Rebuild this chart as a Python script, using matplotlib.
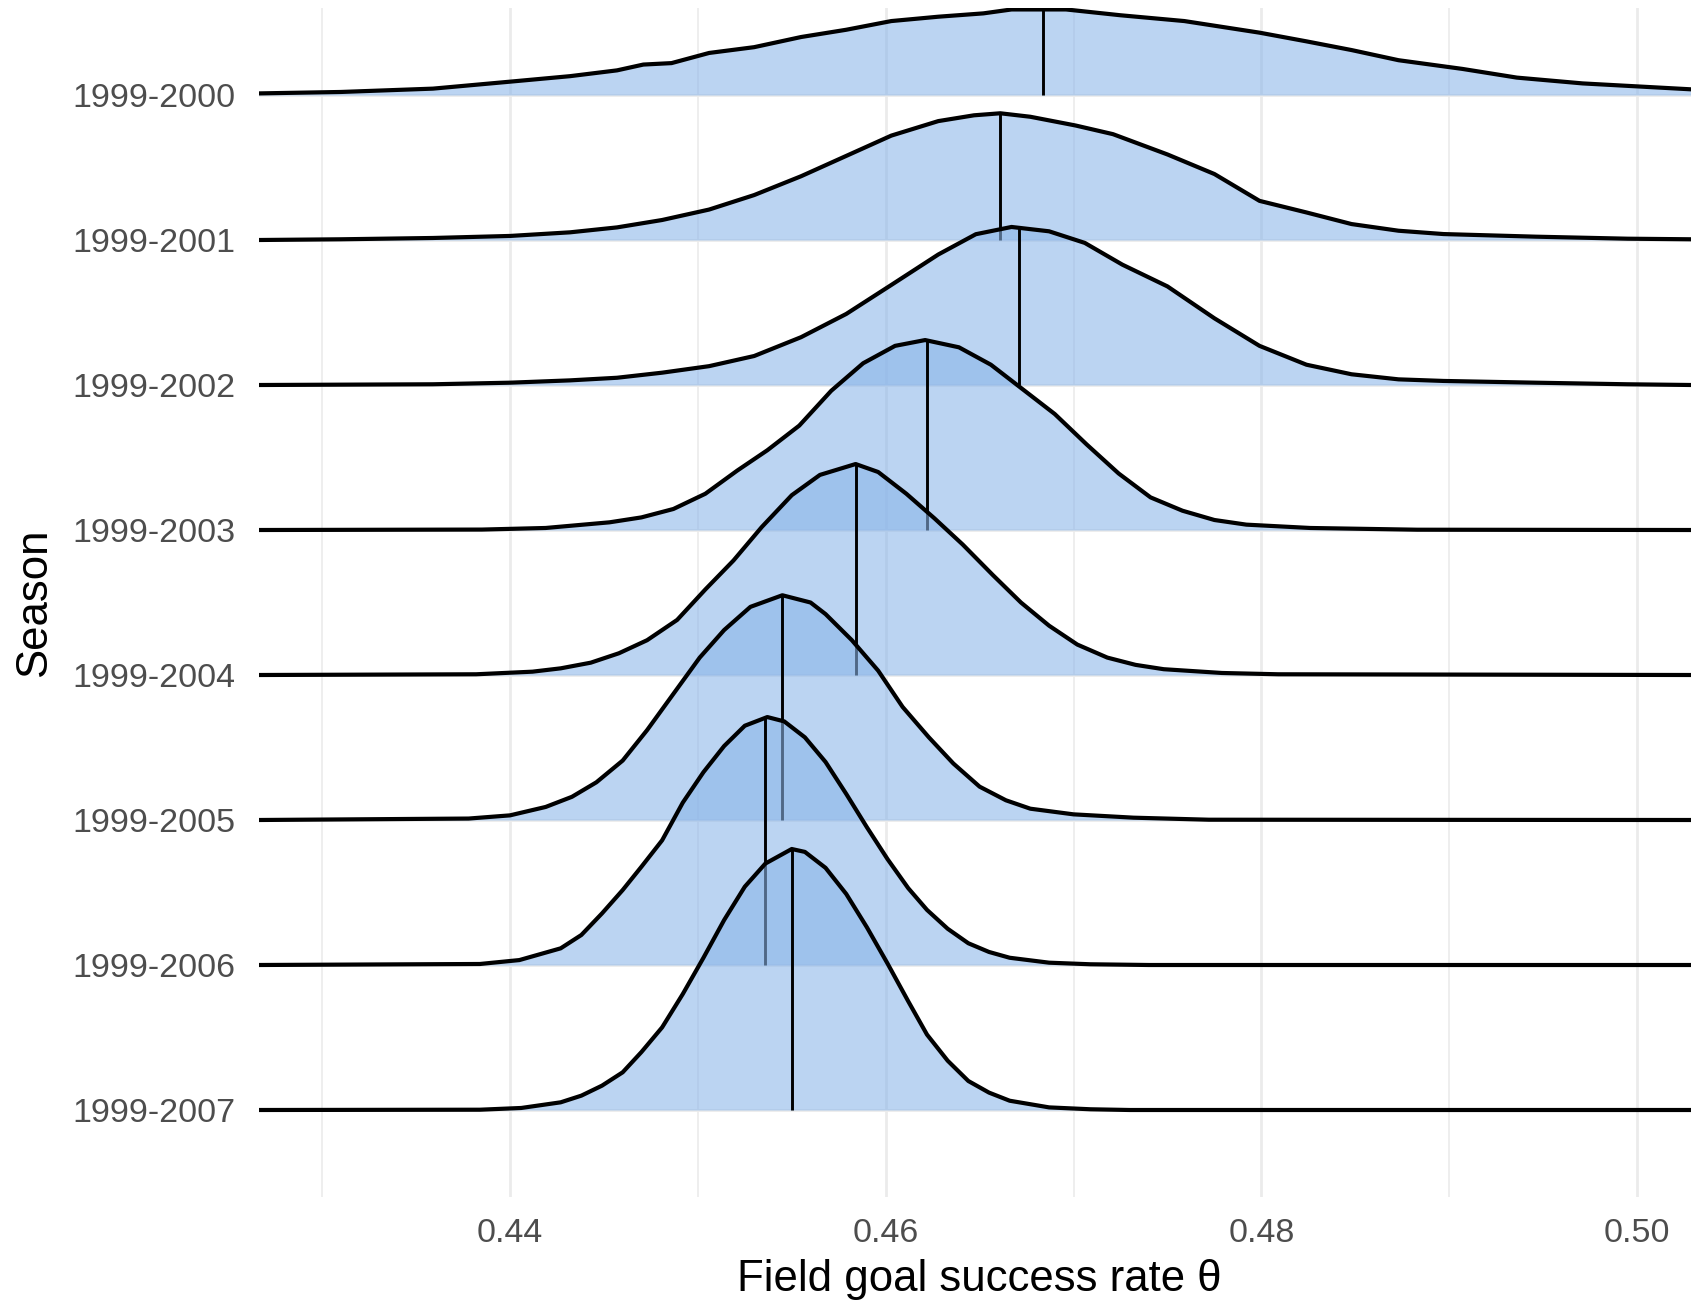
import numpy as np
import matplotlib.pyplot as plt

plt.rcParams['font.family'] = ['Liberation Sans', 'DejaVu Sans']

# seasons from top to bottom, posterior means (vertical lines)
seasons = ["1999-2000", "1999-2001", "1999-2002", "1999-2003",
           "1999-2004", "1999-2005", "1999-2006", "1999-2007"]
means = [0.4684, 0.4661, 0.4671, 0.4622, 0.4584, 0.4545, 0.4536, 0.4550]

# ridge heights (in units of row spacing)
x_2000 = [0.4266, 0.4310, 0.4359, 0.4400, 0.4432, 0.4457, 0.4471, 0.4486, 0.4506,
          0.4530, 0.4555, 0.4579, 0.4603, 0.4628, 0.4652, 0.4667, 0.4696, 0.4725,
          0.4759, 0.4799, 0.4824, 0.4848, 0.4873, 0.4907, 0.4936, 0.4971, 0.5029]
h_2000 = [0.011, 0.021, 0.044, 0.092, 0.13, 0.17, 0.21, 0.22, 0.29,
          0.33, 0.40, 0.45, 0.51, 0.54, 0.563, 0.59, 0.59, 0.55,
          0.51, 0.43, 0.37, 0.31, 0.24, 0.18, 0.12, 0.08, 0.039]

x_2001 = [0.4266, 0.4310, 0.4359, 0.4400, 0.4432, 0.4457, 0.4481, 0.4506, 0.4530,
          0.4555, 0.4579, 0.4603, 0.4628, 0.4647, 0.4661, 0.4677, 0.4701, 0.4721,
          0.4750, 0.4775, 0.4799, 0.4824, 0.4848, 0.4873, 0.4897, 0.4946, 0.4995, 0.5029]
h_2001 = [0.0, 0.005, 0.014, 0.028, 0.053, 0.087, 0.138, 0.21, 0.31,
          0.44, 0.58, 0.72, 0.82, 0.86, 0.874, 0.85, 0.79, 0.73,
          0.59, 0.455, 0.27, 0.19, 0.11, 0.064, 0.041, 0.023, 0.009, 0.005]

x_2002 = [0.4266, 0.4359, 0.4400, 0.4432, 0.4457, 0.4481, 0.4506, 0.4530, 0.4555,
          0.4579, 0.4603, 0.4628, 0.4648, 0.4667, 0.4687, 0.4706, 0.4726, 0.4750,
          0.4775, 0.4799, 0.4824, 0.4848, 0.4873, 0.4897, 0.4946, 0.4995, 0.5029]
h_2002 = [0.0, 0.005, 0.016, 0.032, 0.05, 0.085, 0.13, 0.20, 0.33,
          0.49, 0.69, 0.90, 1.04, 1.09, 1.06, 0.98, 0.83, 0.68,
          0.46, 0.27, 0.14, 0.074, 0.039, 0.028, 0.016, 0.005, 0.0]

x_2003 = [0.4266, 0.4385, 0.4419, 0.4453, 0.4470, 0.4487, 0.4504, 0.4521, 0.4537,
          0.4554, 0.4571, 0.4588, 0.4605, 0.4621, 0.4639, 0.4656, 0.4673, 0.4690,
          0.4707, 0.4724, 0.4741, 0.4758, 0.4775, 0.4792, 0.4826, 0.4883, 0.5029]
h_2003 = [0.0, 0.003, 0.014, 0.053, 0.087, 0.145, 0.25, 0.41, 0.55,
          0.72, 0.96, 1.15, 1.27, 1.31, 1.26, 1.14, 0.97, 0.80,
          0.59, 0.39, 0.225, 0.133, 0.069, 0.037, 0.014, 0.002, 0.0]

x_2004 = [0.4266, 0.4382, 0.4412, 0.4427, 0.4443, 0.4458, 0.4473, 0.4489, 0.4504,
          0.4519, 0.4534, 0.4550, 0.4565, 0.4584, 0.4596, 0.4611, 0.4626, 0.4641,
          0.4657, 0.4672, 0.4687, 0.4702, 0.4718, 0.4733, 0.4748, 0.4779, 0.4809, 0.5029]
h_2004 = [0.0, 0.005, 0.023, 0.046, 0.085, 0.15, 0.24, 0.38, 0.59,
          0.79, 1.02, 1.24, 1.38, 1.455, 1.40, 1.25, 1.08, 0.90,
          0.69, 0.50, 0.34, 0.21, 0.12, 0.07, 0.04, 0.014, 0.005, 0.0]

x_2005 = [0.4266, 0.4378, 0.4400, 0.4419, 0.4433, 0.4446, 0.4460, 0.4473, 0.4487,
          0.4501, 0.4514, 0.4528, 0.4545, 0.4560, 0.4568, 0.4582, 0.4596, 0.4609,
          0.4623, 0.4636, 0.4650, 0.4664, 0.4677, 0.4700, 0.4732, 0.4772, 0.5029]
h_2005 = [0.0, 0.01, 0.032, 0.09, 0.16, 0.26, 0.41, 0.62, 0.87,
          1.12, 1.31, 1.47, 1.55, 1.50, 1.42, 1.24, 1.03, 0.78,
          0.57, 0.39, 0.23, 0.136, 0.078, 0.039, 0.016, 0.002, 0.0]

x_2006 = [0.4266, 0.4384, 0.4405, 0.4427, 0.4438, 0.4449, 0.4460, 0.4470, 0.4481,
          0.4492, 0.4503, 0.4514, 0.4525, 0.4537, 0.4546, 0.4557, 0.4568, 0.4579,
          0.4590, 0.4601, 0.4612, 0.4622, 0.4633, 0.4644, 0.4655, 0.4666, 0.4687,
          0.4709, 0.4740, 0.5029]
h_2006 = [0.0, 0.007, 0.034, 0.115, 0.207, 0.356, 0.517, 0.678, 0.86,
          1.12, 1.33, 1.51, 1.65, 1.71, 1.68, 1.57, 1.40, 1.18,
          0.95, 0.73, 0.53, 0.38, 0.25, 0.15, 0.09, 0.05, 0.016,
          0.005, 0.0, 0.0]

x_2007 = [0.4266, 0.4384, 0.4406, 0.4427, 0.4438, 0.4449, 0.4460, 0.4470, 0.4481,
          0.4492, 0.4503, 0.4514, 0.4525, 0.4536, 0.4550, 0.4557, 0.4568, 0.4579,
          0.4590, 0.4601, 0.4612, 0.4622, 0.4633, 0.4644, 0.4655, 0.4666, 0.4687,
          0.4709, 0.4730, 0.5029]
h_2007 = [0.0, 0.002, 0.014, 0.053, 0.099, 0.168, 0.26, 0.40, 0.57,
          0.80, 1.05, 1.31, 1.54, 1.70, 1.80, 1.78, 1.67, 1.49,
          1.26, 1.01, 0.75, 0.52, 0.34, 0.20, 0.12, 0.064, 0.018,
          0.005, 0.0, 0.0]

ridges_x = [x_2000, x_2001, x_2002, x_2003, x_2004, x_2005, x_2006, x_2007]
ridges_h = [h_2000, h_2001, h_2002, h_2003, h_2004, h_2005, h_2006, h_2007]

fill_col = '#8AB5E9'

fig = plt.figure(figsize=(16.91, 13.04), dpi=100)
ax = fig.add_axes([259 / 1691, 1 - 1197 / 1304, 1 - 259 / 1691, (1197 - 8.3) / 1304])

n = len(seasons)
for i in range(n):
    base = n - 1 - i
    x = np.array(ridges_x[i])
    h = np.array(ridges_h[i])
    z = 3 + 3 * i
    ax.fill_between(x, base, base + h, color=fill_col, alpha=0.58, lw=0, zorder=z)
    ax.plot(x, base + h, color='black', lw=3.0, zorder=z + 1,
            solid_joinstyle='round', solid_capstyle='butt')
    top = np.interp(means[i], x, h)
    ax.vlines(means[i], base, base + top, color='black', lw=2.1, zorder=z + 1)

ax.set_xlim(0.42664, 0.50287)
ax.set_ylim(-0.6, 7.598)

ax.set_xticks([0.44, 0.46, 0.48, 0.50])
ax.set_xticklabels(['0.44', '0.46', '0.48', '0.50'])
ax.set_xticks([0.43, 0.45, 0.47, 0.49], minor=True)
ax.set_yticks(range(n))
ax.set_yticklabels(seasons[::-1])

ax.grid(which='major', color='#EBEBEB', lw=2.0, zorder=0)
ax.grid(which='minor', axis='x', color='#EBEBEB', lw=1.2, zorder=0)
ax.set_axisbelow(True)

for s in ax.spines.values():
    s.set_visible(False)
ax.tick_params(which='both', length=0)
ax.tick_params(axis='y', pad=17, labelsize=24.5, labelcolor='#4D4D4D')
ax.tick_params(axis='x', pad=15, labelsize=24.5, labelcolor='#4D4D4D')

ax.set_xlabel('Field goal success rate θ', fontsize=31.5, va='center')
ax.xaxis.set_label_coords(0.503, -0.069)
ax.set_ylabel('Season', fontsize=31.5, va='center')
ax.yaxis.set_label_coords(-0.1568, 0.5)

fig.savefig('out.png', dpi=100)
